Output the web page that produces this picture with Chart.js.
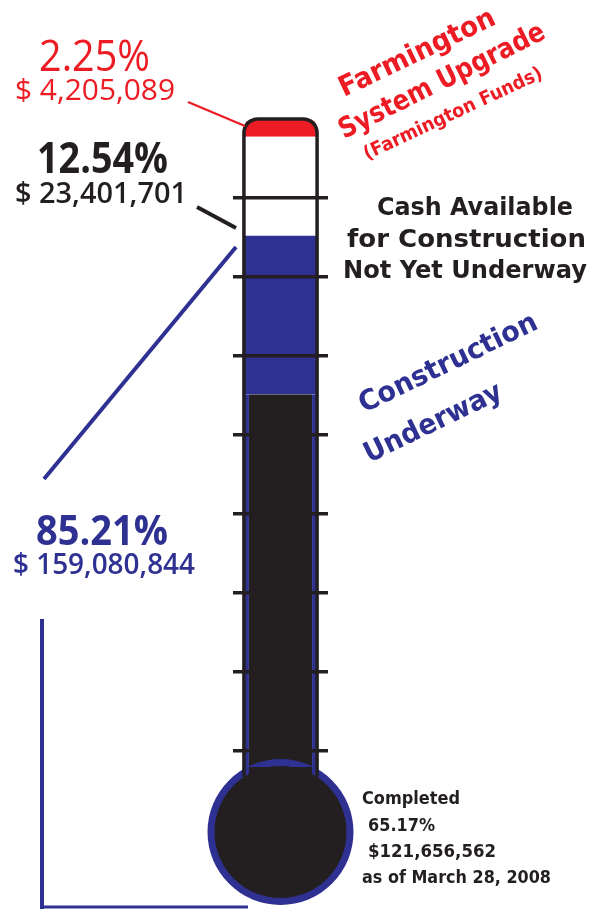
<!DOCTYPE html>
<html>
<head>
<meta charset="utf-8">
<script src="https://cdn.jsdelivr.net/npm/chart.js@4.4.1/dist/chart.umd.min.js"></script>
<style>
  html, body { margin: 0; padding: 0; background: #ffffff; }
  #wrap { position: relative; width: 596px; height: 909px; }
</style>
</head>
<body>
<div id="wrap"><canvas id="c"></canvas></div>
<script>
// ---- data ----
const categories = ['Funds'];
const seriesNames = ['Completed', 'Construction Underway', 'Cash Available for Construction Not Yet Underway', 'Farmington System Upgrade'];
const completedPct = [65.17];
const underwayPct = [20.04];      // 85.21 - 65.17
const cashPct = [12.54];
const farmingtonPct = [2.25];
const pctLabels = ['2.25%', '12.54%', '85.21%', '65.17%'];
const amountLabels = ['$ 4,205,089', '$ 23,401,701', '$ 159,080,844', '$121,656,562'];
const tickValues = [20, 30, 40, 50, 60, 70, 80, 90];

const RED = '#ed1c24', BLUE = '#2e3192', BLACK = '#231f20';

function txt(ctx, s, x, y, size, w, color, weight, angle, family) {
  ctx.save();
  ctx.translate(x, y);
  if (angle) ctx.rotate(angle * Math.PI / 180);
  ctx.font = weight + ' ' + size + 'px ' + (family || '"DejaVu Sans"');
  const m = ctx.measureText(s).width;
  ctx.scale(w / m, 1);
  ctx.fillStyle = color;
  ctx.textAlign = 'left';
  ctx.textBaseline = 'alphabetic';
  ctx.fillText(s, 0, 0);
  ctx.restore();
}
function line(ctx, x1, y1, x2, y2, color, w) {
  ctx.save();
  ctx.strokeStyle = color; ctx.lineWidth = w; ctx.lineCap = 'butt';
  ctx.beginPath(); ctx.moveTo(x1, y1); ctx.lineTo(x2, y2); ctx.stroke();
  ctx.restore();
}
const NUMF = '"Open Sans"';

const thermo = {
  id: 'thermo',
  afterDatasetsDraw(chart) {
    const ctx = chart.ctx;
    const bottomBar = chart.getDatasetMeta(0).data[0];
    const topBar = chart.getDatasetMeta(3).data[0];
    const cx = bottomBar.x;
    const L = cx - bottomBar.width / 2, R = cx + bottomBar.width / 2;
    const ca = chart.chartArea;
    const cy = ca.bottom - 77;
    const neckY = ca.bottom - 132;
    // bulb
    ctx.save();
    ctx.fillStyle = BLUE;
    ctx.beginPath(); ctx.arc(cx, cy, 73, 0, Math.PI * 2); ctx.fill();
    // flare
    ctx.beginPath();
    ctx.moveTo(L - 2, neckY);
    ctx.quadraticCurveTo(L - 2, neckY + 6, L - 14, neckY + 8);
    ctx.lineTo(R + 14, neckY + 8);
    ctx.quadraticCurveTo(R + 2, neckY + 6, R + 2, neckY);
    ctx.closePath(); ctx.fill();
    ctx.fillStyle = BLACK;
    ctx.beginPath(); ctx.arc(cx, cy, 66, 0, Math.PI * 2); ctx.fill();
    ctx.fillRect(L + 5, neckY - 10, R - L - 10, 30);
    // tube outline
    const top = topBar.y, r = 14;
    ctx.strokeStyle = BLACK; ctx.lineWidth = 3.5;
    ctx.beginPath();
    ctx.moveTo(L, neckY);
    ctx.lineTo(L, top + r);
    ctx.arcTo(L, top, L + r, top, r);
    ctx.lineTo(R - r, top);
    ctx.arcTo(R, top, R, top + r, r);
    ctx.lineTo(R, neckY);
    ctx.stroke();
    ctx.restore();
  },
  afterDraw(chart) {
    const ctx = chart.ctx;
    // leader lines
    line(ctx, 188, 102, 245, 126, RED, 2.2);
    line(ctx, 197, 207, 236, 228, BLACK, 4);
    line(ctx, 236, 247, 44, 479, BLUE, 4);
    line(ctx, 42, 619, 42, 909, BLUE, 4);
    line(ctx, 40, 907, 248, 907, BLUE, 3);
    // left labels
    txt(ctx, pctLabels[0], 39, 71, 43, 111, RED, 'normal', 0, NUMF);
    txt(ctx, amountLabels[0], 15, 100, 29, 160, RED, 'normal', 0, NUMF);
    txt(ctx, pctLabels[1], 37, 173, 43, 131, BLACK, 'bold', 0, NUMF);
    txt(ctx, amountLabels[1], 15, 203, 28, 172, BLACK, '600', 0, NUMF);
    txt(ctx, pctLabels[2], 36, 545, 42, 132, BLUE, 'bold', 0, NUMF);
    txt(ctx, amountLabels[2], 13, 574, 29, 182, BLUE, '600', 0, NUMF);
    // right labels
    txt(ctx, 'Farmington', 344, 97, 28, 170, RED, 'bold', -25.5);
    txt(ctx, 'System Upgrade', 344, 139, 28, 227, RED, 'bold', -26.5);
    txt(ctx, '(Farmington Funds)', 367, 160, 19, 195, RED, 'bold', -25);
    txt(ctx, 'Cash Available', 377, 215, 25, 196, BLACK, 'bold');
    txt(ctx, 'for Construction', 347, 247, 25, 239, BLACK, 'bold');
    txt(ctx, 'Not Yet Underway', 343, 278, 25, 244, BLACK, 'bold');
    txt(ctx, 'Construction', 364, 413, 28, 195, BLUE, 'bold', -25.8);
    txt(ctx, 'Underway', 369, 463, 28, 150, BLUE, 'bold', -25.8);
    txt(ctx, 'Completed', 362, 804, 18, 98, BLACK, 'bold');
    txt(ctx, pctLabels[3], 368, 831, 18, 67, BLACK, 'bold');
    txt(ctx, amountLabels[3], 368, 857, 18, 128, BLACK, 'bold');
    txt(ctx, 'as of March 28, 2008', 362, 883, 18, 189, BLACK, 'bold');
  }
};

new Chart(document.getElementById('c'), {
  type: 'bar',
  data: {
    labels: categories,
    datasets: [
      { label: seriesNames[0], data: completedPct, backgroundColor: BLACK, borderColor: BLUE,
        borderWidth: { left: 5, right: 5, top: 0, bottom: 0 }, borderSkipped: false,
        clip: { left: false, right: false, top: false, bottom: -60 } },
      { label: seriesNames[1], data: underwayPct, backgroundColor: BLUE, borderWidth: 0 },
      { label: seriesNames[2], data: cashPct, backgroundColor: '#ffffff', borderWidth: 0 },
      { label: seriesNames[3], data: farmingtonPct, backgroundColor: RED, borderWidth: 0,
        borderRadius: { topLeft: 14, topRight: 14, bottomLeft: 0, bottomRight: 0 }, borderSkipped: false }
    ]
  },
  options: {
    responsive: true,
    maintainAspectRatio: false,
    animation: false,
    devicePixelRatio: 1,
    layout: { padding: { top: 119, bottom: 0, left: 233, right: 268 } },
    datasets: { bar: { categoryPercentage: 1, barPercentage: 0.77 } },
    plugins: { legend: { display: false }, tooltip: { enabled: false }, title: { display: false } },
    scales: {
      x: { stacked: true, display: false },
      y: {
        stacked: true, min: 0, max: 100, z: 1,
        afterBuildTicks(axis) { axis.ticks = tickValues.map(v => ({ value: v })); },
        ticks: { display: false },
        border: { display: false },
        grid: { drawTicks: false, color: BLACK, lineWidth: 3.5, z: 1 }
      }
    }
  },
  plugins: [thermo]
});
</script>
</body>
</html>
